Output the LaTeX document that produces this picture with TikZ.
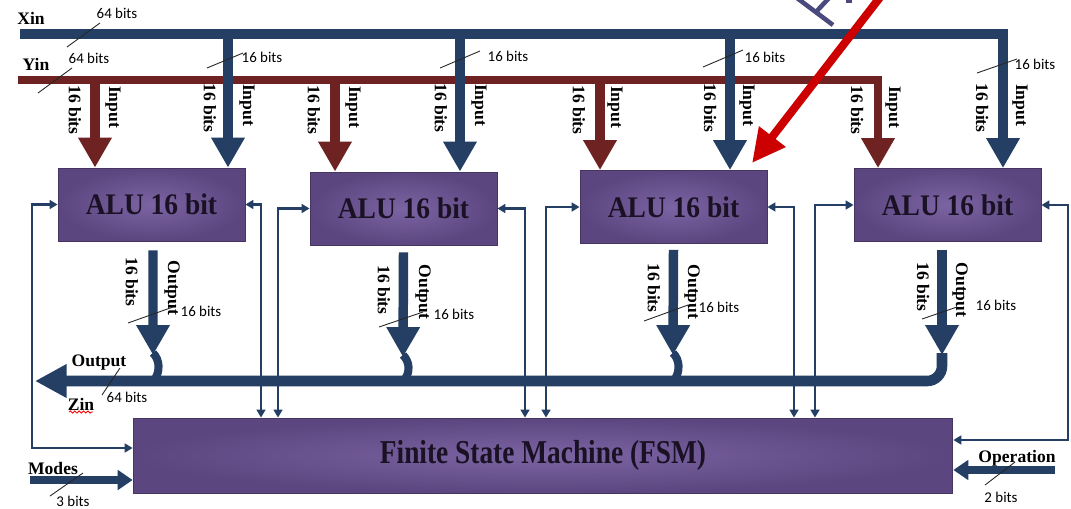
\documentclass[tikz,border=0pt]{standalone}
\usepackage{fontspec}
\setmainfont{Liberation Serif}
\newfontfamily\calibri{Carlito}
\newfontfamily\narrowserif[FakeStretch=0.92]{Liberation Serif}
\newfontfamily\fsmserif[FakeStretch=0.82]{Liberation Serif}
\usepackage{xcolor}
\usetikzlibrary{arrows.meta, positioning, calc, decorations.pathmorphing}
\definecolor{busblue}{HTML}{243F63}
\definecolor{busred}{HTML}{6E2222}
\definecolor{boxpurple}{HTML}{5C4680}
\definecolor{boxlight}{HTML}{7B64A2}
\definecolor{boxtext}{HTML}{1A1224}
\definecolor{hintred}{HTML}{CC0000}
\definecolor{glyphblue}{HTML}{4B4A7E}

\begin{document}
\begin{tikzpicture}[x=0.02cm, y=-0.02cm,
    alu/.style={draw=boxpurple!75!black, line width=0.5pt, inner color=boxlight, outer color=boxpurple, minimum width=3.74cm, minimum height=1.46cm, text=boxtext, font=\narrowserif\bfseries\fontsize{17}{20}\selectfont},
    fsmbox/.style={alu, minimum width=16.4cm, minimum height=1.5cm, font=\fsmserif\bfseries\fontsize{19}{22}\selectfont},
    lab/.style={inner sep=0pt, font=\bfseries\fontsize{10}{12}\selectfont},
    vlab/.style={lab, rotate=-90},
    bitlab/.style={inner sep=0pt, font=\calibri\fontsize{8.5}{10}\selectfont},
    tick/.style={line width=0.5pt, black!85},
    xbus/.style={busblue, line width=5.4pt, line join=miter},
    ybus/.style={busred, line width=5pt, line join=miter},
    bigtip/.style={-{Triangle[width=18pt, length=17pt]}},
    ctrl/.style={busblue, line width=1.5pt, {Triangle[width=5pt, length=4.5pt]}-{Triangle[width=5pt, length=4.5pt]}},
    medarrow/.style={busblue, line width=4.2pt, -{Triangle[width=11pt, length=8.5pt]}},
    hook/.style={busblue, line width=4.6pt},
]
    \useasboundingbox (0,0) rectangle (1071,508);
    \clip (0,0) rectangle (1071,508);
    \fill[white] (0,0) rectangle (1071,508);

    % blocks
    \node[alu] (alu1) at (151.5,204.5) {ALU 16 bit};
    \node[alu] (alu2) at (403.5,208.5) {ALU 16 bit};
    \node[alu] (alu3) at (673.5,207) {ALU 16 bit};
    \node[alu] (alu4) at (947.5,205) {ALU 16 bit};
    \node[fsmbox] (fsm) at (543,455.5) {Finite State Machine (FSM)};

    % Xin and Yin buses
    \draw[xbus, bigtip] (20,34) -| (1003,0 |- alu4.north);
    \draw[ybus, bigtip] (18,80) -| (878,0 |- alu4.north);
    \draw[xbus, bigtip] (228,34) -- (228,0 |- alu1.north);
    \draw[xbus, bigtip] (460,34) -- (460,0 |- alu2.north);
    \draw[xbus, bigtip] (730,34) -- (730,0 |- alu3.north);
    \draw[ybus, line width=5.4pt, bigtip] (95,80) -- (95,0 |- alu1.north);
    \draw[ybus, line width=5.4pt, bigtip] (335,80) -- (335,0 |- alu2.north);
    \draw[ybus, line width=5.4pt, bigtip] (600,80) -- (600,0 |- alu3.north);

    \node[lab] (xin) at (31,18) {Xin};
    \node[lab] (yin) at (36,64) {Yin};
    \draw[tick] (67,47) -- (100,23);
    \node[bitlab] at (117,13) {64 bits};
    \draw[tick] (38,93) -- (72,68);
    \node[bitlab] at (89,58) {64 bits};
    \draw[tick] (207,68) -- (243,53);
    \node[bitlab] at (262,57) {16 bits};
    \draw[tick] (440,68) -- (480,51);
    \node[bitlab] at (508,56) {16 bits};
    \draw[tick] (703,67) -- (743,50);
    \node[bitlab] at (765,57) {16 bits};
    \draw[tick] (977,73) -- (1017,59);
    \node[bitlab] at (1035,64) {16 bits};

    % input arrow labels
    \node[vlab] at (75,110) {16 bits};   \node[vlab] at (113,107) {Input};
    \node[vlab] at (210,108) {16 bits};  \node[vlab] at (247,105) {Input};
    \node[vlab] at (314,110) {16 bits};  \node[vlab] at (353,107) {Input};
    \node[vlab] at (441,108) {16 bits};  \node[vlab] at (479,105) {Input};
    \node[vlab] at (579,110) {16 bits};  \node[vlab] at (615,107) {Input};
    \node[vlab] at (710,108) {16 bits};  \node[vlab] at (747,105) {Input};
    \node[vlab] at (857,110) {16 bits};  \node[vlab] at (893,107) {Input};
    \node[vlab] at (982,108) {16 bits};  \node[vlab] at (1020,105) {Input};

    % control lines between ALUs and FSM
    \draw[ctrl] (alu1.west) -| (32,448) -- (fsm.west |- 0,448);
    \draw[ctrl] (alu1.east) -| (261,0 |- fsm.north);
    \draw[ctrl] (alu2.west) -| (278,0 |- fsm.north);
    \draw[ctrl] (alu2.east) -| (525,0 |- fsm.north);
    \draw[ctrl] (alu3.west) -| (546,0 |- fsm.north);
    \draw[ctrl] (alu3.east) -| (794,0 |- fsm.north);
    \draw[ctrl] (alu4.west) -| (815,0 |- fsm.north);
    \draw[ctrl] (alu4.east) -| (1068,440) -- (fsm.east |- 0,440);

    % outputs
    \draw[xbus, bigtip] ($(alu1.south)+(1.5,9)$) -- (153,355);
    \draw[xbus, bigtip] ($(alu2.south)+(0,7)$) -- (403,357);
    \draw[xbus, bigtip] ($(alu3.south)+(0,6)$) -- (673,355);
    \draw[xbus, bigtip] ($(alu4.south)+(-5.5,8)$) -- (942,355);
    \draw[hook] (153,353) .. controls (160,360) and (160,371) .. (155,379);
    \draw[hook] (403,355) .. controls (410,362) and (410,372) .. (405,379);
    \draw[hook] (673,353) .. controls (680,360) and (680,371) .. (675,379);
    \draw[xbus, line width=6pt, rounded corners=0.3cm, -{Triangle[width=18pt, length=18pt]}] (942,353) |- (35,381);

    \node[vlab] at (132,282) {16 bits};  \node[vlab] at (172,288) {Output};
    \node[vlab] at (384,290) {16 bits};  \node[vlab] at (423,292) {Output};
    \node[vlab] at (654,288) {16 bits};  \node[vlab] at (692,292) {Output};
    \node[vlab] at (923,287) {16 bits};  \node[vlab] at (960,290) {Output};
    \draw[tick] (128,323) -- (173,307);
    \node[bitlab] at (201,311) {16 bits};
    \draw[tick] (379,327) -- (423,312);
    \node[bitlab] at (454,314) {16 bits};
    \draw[tick] (644,321) -- (688,305);
    \node[bitlab] at (719,307) {16 bits};
    \draw[tick] (922,319) -- (957,307);
    \node[bitlab] at (996,305) {16 bits};

    \node[lab] (zout) at (99,363) {Output};
    \node[lab] (zin) at (81,404) {Zin};
    \draw[red, line width=0.5pt, decorate, decoration={snake, amplitude=0.6pt, segment length=2.5pt}] (69,412) -- (93,412);
    \draw[tick] (102,395) -- (120,368);
    \node[bitlab] at (127,397) {64 bits};

    % FSM inputs
    \node[lab] (modes) at (53,468) {Modes};
    \draw[medarrow] (30,480) -- (fsm.west |- 0,480);
    \draw[tick] (50,496) -- (83,473);
    \node[bitlab] at (73,501) {3 bits};
    \node[lab] (oper) at (1017,458) {Operation};
    \draw[medarrow] (1055,470) -- (fsm.east |- 0,470);
    \draw[tick] (985,485) -- (1015,462);
    \node[bitlab] at (1001,497) {2 bits};

    % pointer
    \draw[glyphblue, line width=2.6pt] (797,-2) -- (833,25);
    \draw[glyphblue, line width=2.6pt] (815,13) -- (829,-2);
    \fill[glyphblue] (846,-1) rectangle (852,3);
    \draw[hintred, line width=4.6pt, -{Triangle[width=18pt, length=19pt]}] (905,-35) -- (752,163);
\end{tikzpicture}
\end{document}
